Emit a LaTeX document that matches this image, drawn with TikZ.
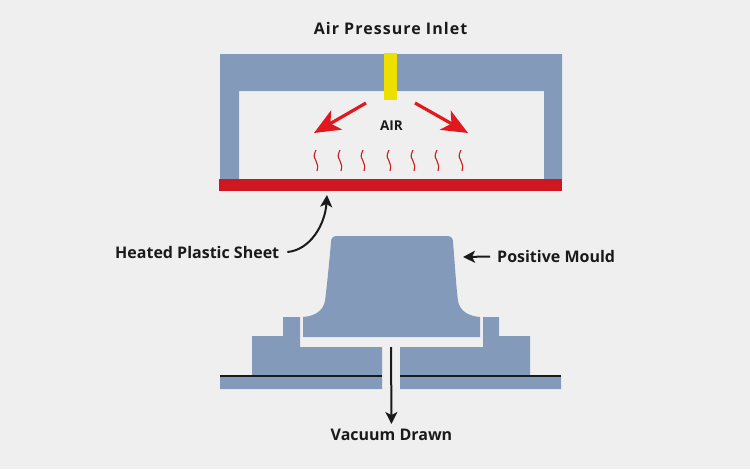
\documentclass[tikz,border=0pt]{standalone}
\usepackage{fontspec}
\setmainfont{Open Sans}
\usetikzlibrary{arrows.meta}
\definecolor{paper}{HTML}{EFEFEF}
\definecolor{steel}{HTML}{839ABA}
\definecolor{sheet}{HTML}{CE1720}
\definecolor{inlet}{HTML}{EDE000}
\definecolor{airred}{HTML}{E1191F}
\definecolor{ink}{HTML}{1A1A1A}
\tikzset{
	label/.style={font=\bfseries\fontsize{16}{18}\selectfont,text=ink,inner sep=0pt},
	pointer/.style={draw=ink,line width=2pt,-{Stealth[length=12pt,width=12pt,inset=3pt]}},
	airflow/.style={draw=airred,line width=3.2pt,-{Stealth[length=26pt,width=22pt,inset=7pt]}},
	wave/.pic={\draw[sheet,line width=1.1pt] (0,0) .. controls (-3,6) and (-2,8) .. (0,11) .. controls (2,14) and (2,17) .. (1,21);}
}
\begin{document}
\begin{tikzpicture}[x=1pt,y=-1pt]
	\fill[paper] (0,0) rectangle (750,469);
	\useasboundingbox (0,0) rectangle (750,469);
	\fill[steel] (220,54) -- (562,54) -- (562,179) -- (544,179) -- (544,91) -- (239,91) -- (239,179) -- (220,179) -- cycle;
	\fill[inlet] (384,53) rectangle (397,100);
	\fill[sheet] (219,179) rectangle (562,191);
	\fill[steel] (337,236) -- (447,236) .. controls (451,236) and (453,238) .. (453,242) .. controls (455,265) and (456,285) .. (458,301) .. controls (460,311) and (468,316) .. (480,317) -- (480,337) -- (303,337) -- (303,317) .. controls (315,316) and (323,311) .. (325,301) .. controls (327,285) and (329,265) .. (331,242) .. controls (331,238) and (333,236) .. (337,236) -- cycle;
	\fill[steel] (220,376) -- (252,376) -- (252,336) -- (283,336) -- (283,317) -- (300,317) -- (300,347) -- (382,347) -- (382,389) -- (220,389) -- cycle;
	\fill[steel] (400,347) -- (483,347) -- (483,317) -- (499,317) -- (499,336) -- (530,336) -- (530,376) -- (561,376) -- (561,389) -- (400,389) -- cycle;
	\draw[ink,line width=2pt] (220,376) -- (382,376);
	\draw[ink,line width=2pt] (400,376) -- (561,376);
	\pic at (316,150) {wave};
	\pic at (340,150) {wave};
	\pic at (363,150) {wave};
	\pic at (389,150) {wave};
	\pic at (413,150) {wave};
	\pic at (437,150) {wave};
	\pic at (461,150) {wave};
	\coordinate (leftstart) at (366,103);
	\coordinate (leftend) at (314,133);
	\coordinate (rightstart) at (415,103);
	\coordinate (rightend) at (468,133);
	\draw[airflow] (leftstart) -- (leftend);
	\draw[airflow] (rightstart) -- (rightend);
	\node[label,font=\bfseries\fontsize{13.5}{15}\selectfont] (air) at (391.5,125.5) {AIR};
	\node[label] (inletlabel) at (390.5,28) {\addfontfeature{LetterSpace=6.5}Air Pressure Inlet};
	\node[label,anchor=west] (sheetlabel) at (115,252) {Heated Plastic Sheet};
	\node[label,anchor=west] (mouldlabel) at (497,256.5) {Positive Mould};
	\node[label] (vacuumlabel) at (391.5,435) {Vacuum Drawn};
	\coordinate (sheetend) at (327,195);
	\coordinate (mouldend) at (463,257);
	\coordinate (vacuumstart) at (391,347);
	\draw[pointer] ([xshift=8pt]sheetlabel.east) .. controls (310,250) and (325,225) .. (sheetend);
	\draw[pointer] ([xshift=-7pt]mouldlabel.west) -- (mouldend);
	\draw[pointer] (vacuumstart) -- ([yshift=5pt]vacuumlabel.north);
\end{tikzpicture}
\end{document}
